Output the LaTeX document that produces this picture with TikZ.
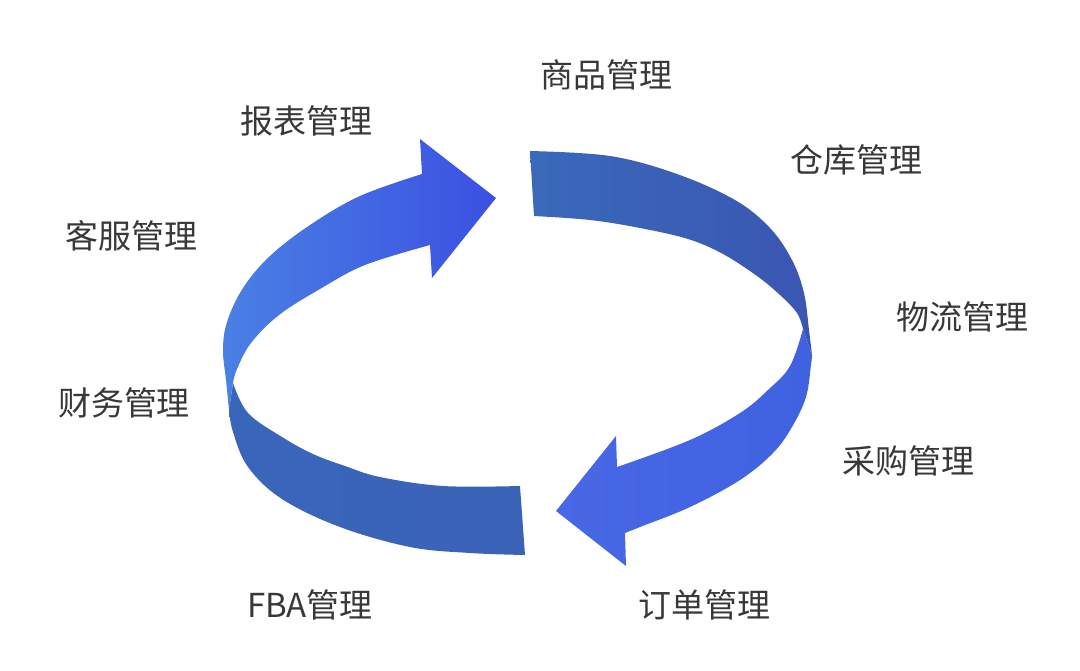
\documentclass[tikz,border=0pt]{standalone}
\usepackage{fontspec}
\setmainfont{Noto Sans CJK SC}
\definecolor{lbl}{HTML}{383838}
\definecolor{lightL}{HTML}{4A80E4}
\definecolor{lightR}{HTML}{3B50E2}
\definecolor{lowL}{HTML}{4868E6}
\definecolor{lowR}{HTML}{4062E0}
\definecolor{darkL}{HTML}{3A69BA}
\definecolor{darkR}{HTML}{3A56B2}
\definecolor{dark2L}{HTML}{3A66BA}
\definecolor{dark2R}{HTML}{3A62B8}
\tikzset{
  label/.style={text=lbl, inner sep=0pt, anchor=center, font=\fontsize{33}{40}\selectfont},
}
\begin{document}
\begin{tikzpicture}[x=1pt,y=-1pt]
\useasboundingbox (0,0) rectangle (1080,670);
% upper-right dark band
\shade[left color=darkL, right color=darkR]
  plot[smooth, tension=0.6] coordinates {(530,151) (610,156) (677,174) (735,200) (770,228) (792,260) (804,293) (809,330) (812,355)}
  -- plot[smooth, tension=0.6] coordinates {(803,329) (797,313) (780,295) (757,276) (723,254) (688,239) (640,228) (590,220) (534,216)}
  -- cycle;
% lower-left dark band
\shade[left color=dark2L, right color=dark2R]
  plot[smooth, tension=0.6] coordinates {(233,383) (248,413) (282,437) (313,454) (345,466) (380,477) (443,486) (520,486)}
  -- (525,555)
  -- plot[smooth, tension=0.6] coordinates {(525,555) (470,553) (410,547) (340,527) (282,499) (248,467) (233,432) (229,410)}
  -- cycle;
% upper-left light arrow
\shade[left color=lightL, right color=lightR]
  plot[smooth, tension=0.6] coordinates {(233,383) (237,369) (251,343) (279,315) (320,289) (365,265) (430,245)}
  -- (432,278) -- (496,198) -- (420,139) -- (422,174)
  -- plot[smooth, tension=0.6] coordinates {(422,174) (360,196) (310,225) (270,256) (243,288) (227,322) (223,350) (226,380) (229,410)}
  -- cycle;
% lower-right light arrow
\shade[left color=lowL, right color=lowR]
  plot[smooth, tension=0.6] coordinates {(803,329) (790,366) (768,390) (740,413) (690,440) (617,467)}
  -- (616,436) -- (556,511) -- (626,566) -- (625,533)
  -- plot[smooth, tension=0.6] coordinates {(625,533) (640,527) (690,507) (740,480) (773,453) (792,427) (806,397) (811,365) (812,355)}
  -- cycle;
% labels
\node[label] (spgl) at (606,75) {商品管理};
\node[label] (bbgl) at (306,121) {报表管理};
\node[label] (ckgl) at (856,160) {仓库管理};
\node[label] (kfgl) at (131,236) {客服管理};
\node[label] (wlgl) at (962,317) {物流管理};
\node[label] (cwgl) at (124,403) {财务管理};
\node[label] (cggl) at (908,461) {采购管理};
\node[label] (fbagl) at (310,605) {FBA管理};
\node[label] (ddgl) at (704,605) {订单管理};
\end{tikzpicture}
\end{document}
